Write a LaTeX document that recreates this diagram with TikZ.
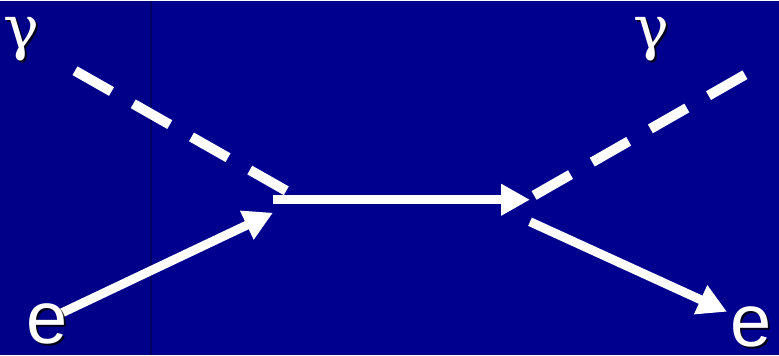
\documentclass[tikz,border=0pt]{standalone}
\usepackage{fontspec}
\setmainfont{Liberation Sans}
\newfontfamily\greekfont{DejaVu Serif}
\usetikzlibrary{arrows.meta}

\definecolor{slideblue}{RGB}{0,0,143}
\definecolor{stripblue}{RGB}{0,0,136}
\definecolor{edgeblue}{RGB}{0,0,96}

\begin{document}
\begin{tikzpicture}[x=1pt,y=-1pt,
  photon/.style={white,line width=10pt,dash pattern=on 42pt off 25pt},
  fermion/.style={white,line width=9pt,-{Triangle[length=29pt,width=30pt]}},
  lbl/.style={white,inner sep=0pt},
  shade/.style={black,opacity=0.8,inner sep=0pt}]
% background
\fill[slideblue] (0,0) rectangle (779,354);
\fill[stripblue] (0,0) rectangle (150,354);
\draw[edgeblue,line width=1.5pt] (151,0) -- (151,354);

% end points and vertices
\coordinate (GL) at (75,70);
\coordinate (GR) at (745,74);
\coordinate (EL) at (60,313);
\coordinate (ER) at (727,311);
\coordinate (VLg) at (288,191);
\coordinate (VLe) at (273,212);
\coordinate (VL) at (273,199);
\coordinate (VR) at (530,199);
\coordinate (VRg) at (530,197);
\coordinate (VRe) at (530,221);

% lines
\draw[photon] (GL) -- (VLg);
\draw[photon] (GR) -- (VRg);
\draw[fermion] (EL) -- (VLe);
\draw[fermion] (VL) -- (VR);
\draw[fermion] (VRe) -- (ER);

% labels
\node[shade] (sg1) at (23,40) {\greekfont\fontsize{60}{60}\selectfont γ};
\node[lbl] (g1) at (21,38) {\greekfont\fontsize{60}{60}\selectfont γ};
\node[shade] (sg2) at (653,40) {\greekfont\fontsize{60}{60}\selectfont γ};
\node[lbl] (g2) at (651,38) {\greekfont\fontsize{60}{60}\selectfont γ};
\node[shade] (se1) at (49,325) {\fontsize{74}{74}\selectfont e};
\node[lbl] (e1) at (47,323) {\fontsize{74}{74}\selectfont e};
\node[shade] (se2) at (753,328) {\fontsize{74}{74}\selectfont e};
\node[lbl] (e2) at (751,326) {\fontsize{74}{74}\selectfont e};
\end{tikzpicture}
\end{document}
